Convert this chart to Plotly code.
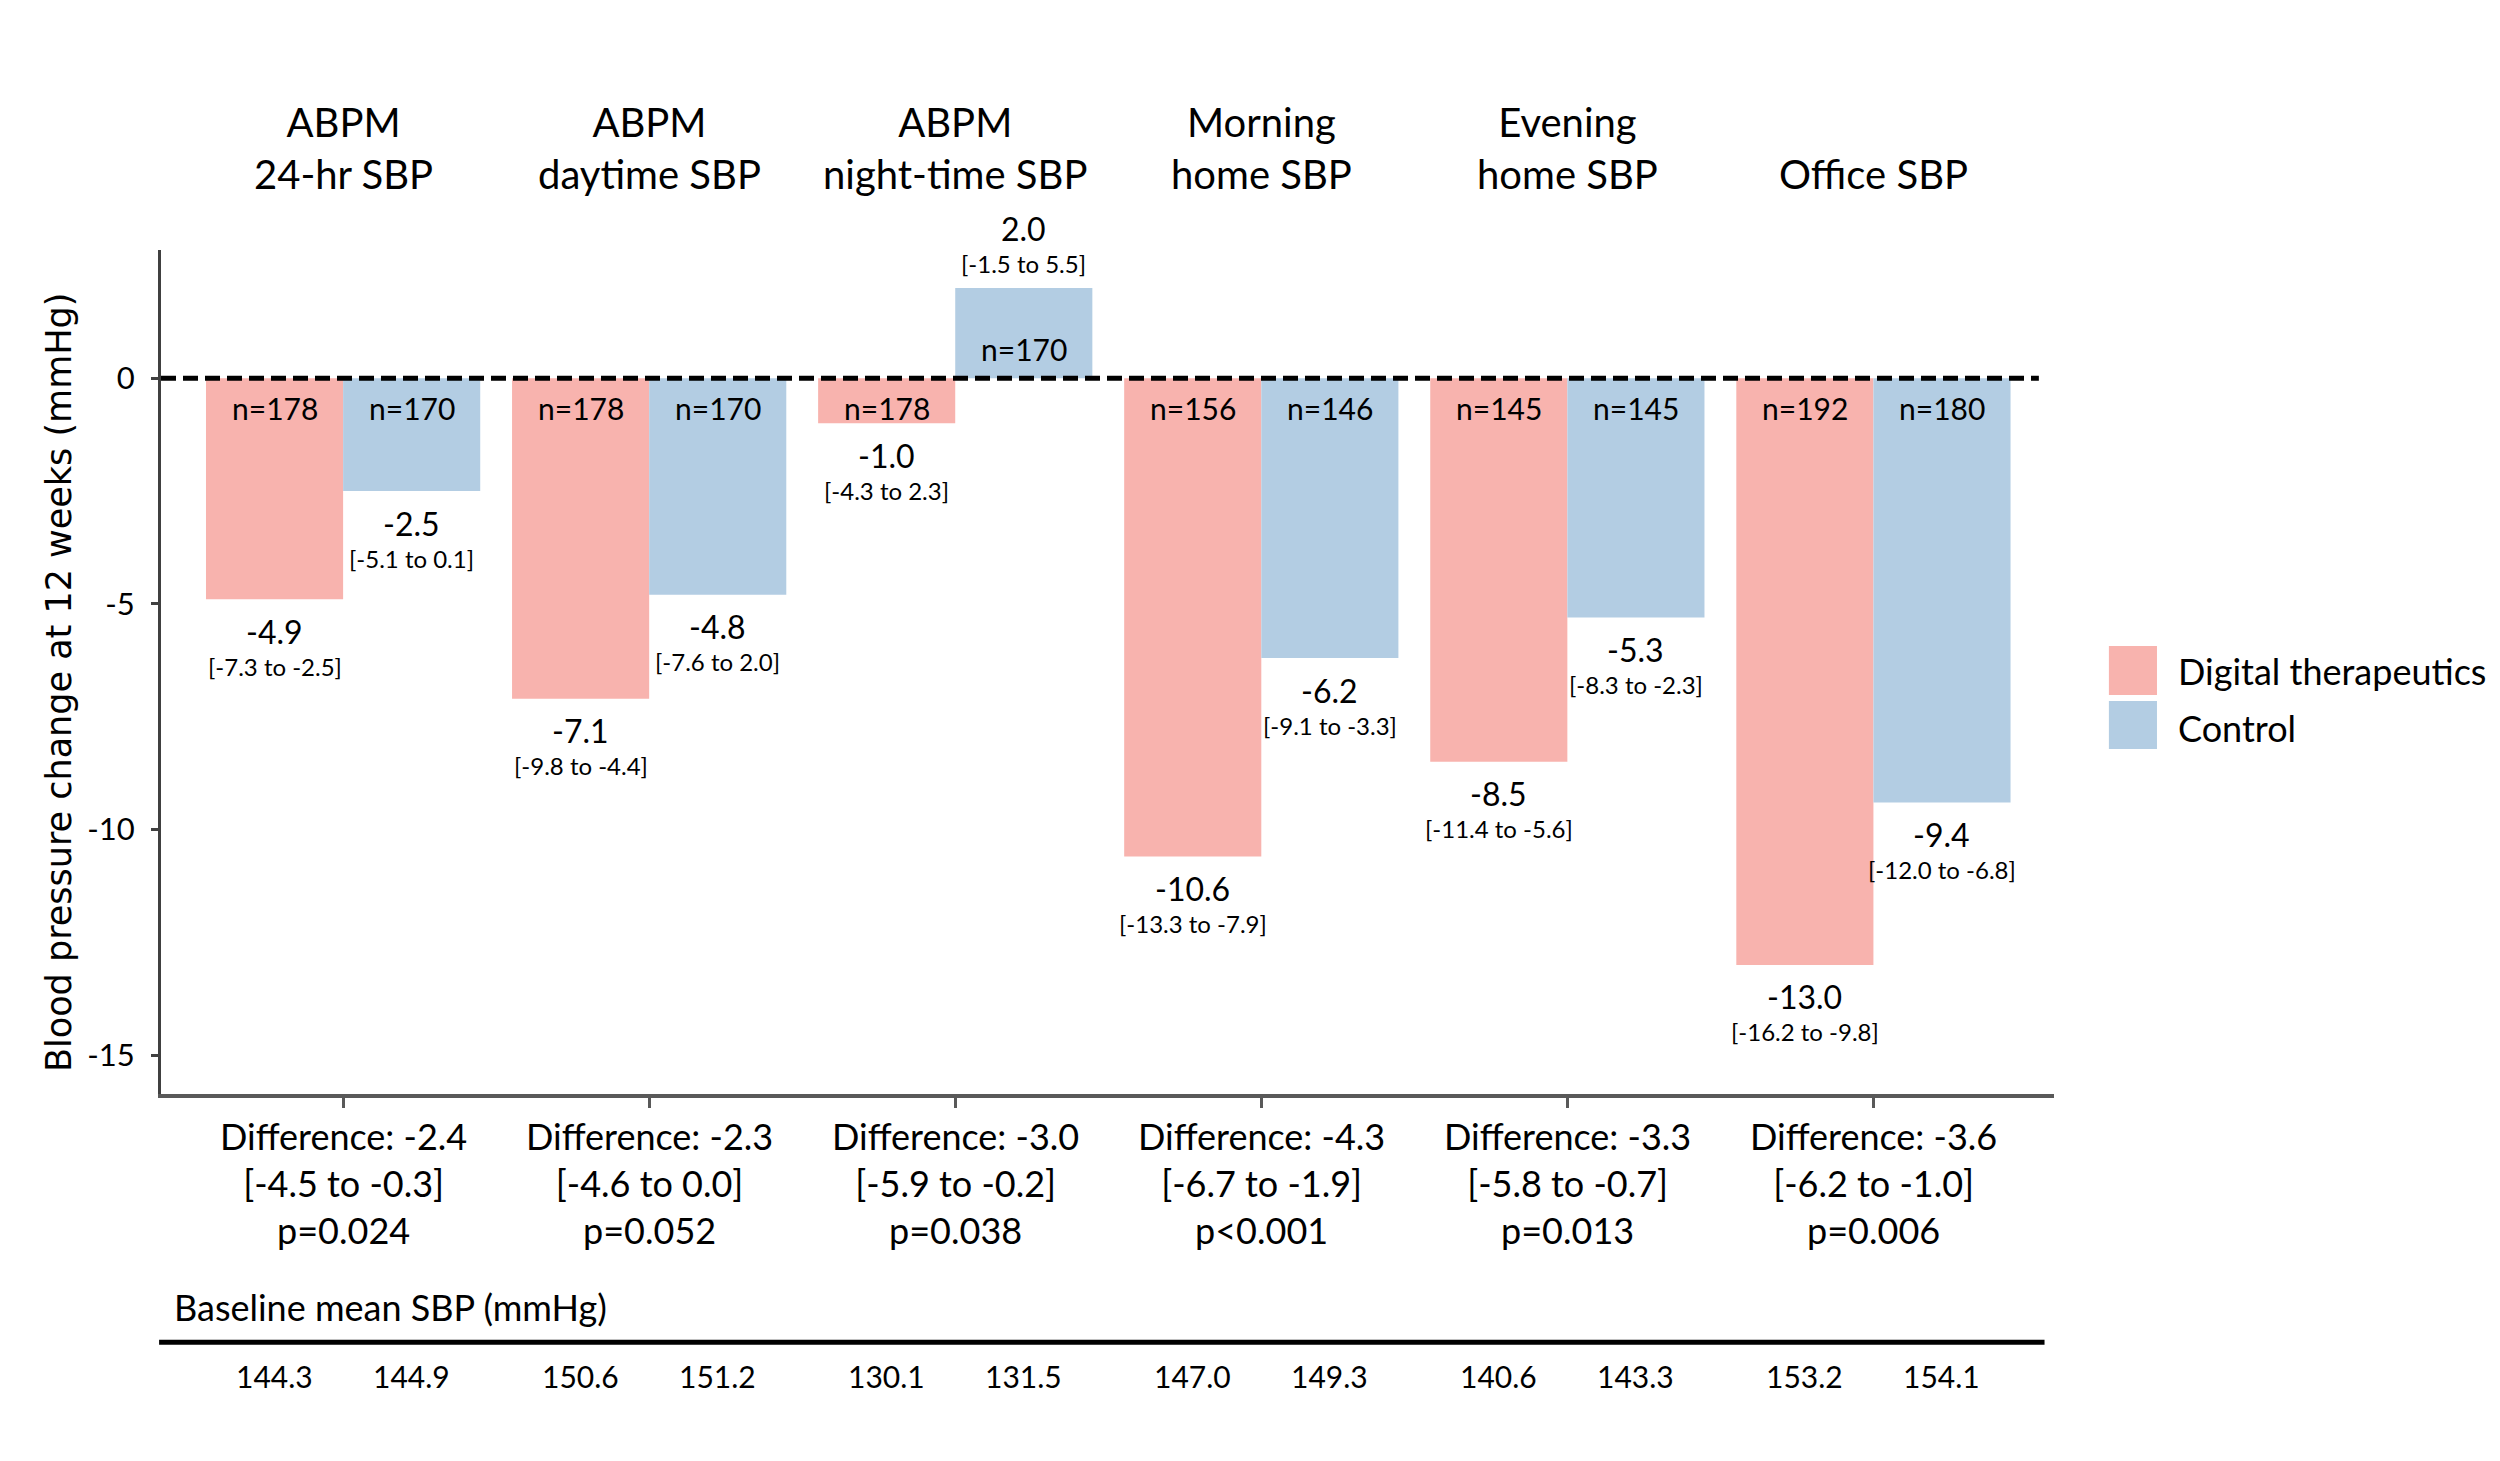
import plotly.graph_objects as go

categories = ["ABPM<br>24-hr SBP", "ABPM<br>daytime SBP", "ABPM<br>night-time SBP",
              "Morning<br>home SBP", "Evening<br>home SBP", "Office SBP"]
digital_vals = [-4.9, -7.1, -1.0, -10.6, -8.5, -13.0]
control_vals = [-2.5, -4.8, 2.0, -6.2, -5.3, -9.4]
digital_ci = ["[-7.3 to -2.5]", "[-9.8 to -4.4]", "[-4.3 to 2.3]", "[-13.3 to -7.9]", "[-11.4 to -5.6]", "[-16.2 to -9.8]"]
control_ci = ["[-5.1 to 0.1]", "[-7.6 to 2.0]", "[-1.5 to 5.5]", "[-9.1 to -3.3]", "[-8.3 to -2.3]", "[-12.0 to -6.8]"]
digital_n = [178, 178, 178, 156, 145, 192]
control_n = [170, 170, 170, 146, 145, 180]
diff_vals = ["-2.4", "-2.3", "-3.0", "-4.3", "-3.3", "-3.6"]
diff_ci = ["[-4.5 to -0.3]", "[-4.6 to 0.0]", "[-5.9 to -0.2]", "[-6.7 to -1.9]", "[-5.8 to -0.7]", "[-6.2 to -1.0]"]
p_vals = ["p=0.024", "p=0.052", "p=0.038", "p<0.001", "p=0.013", "p=0.006"]
baseline_digital = ["144.3", "150.6", "130.1", "147.0", "140.6", "153.2"]
baseline_control = ["144.9", "151.2", "131.5", "149.3", "143.3", "154.1"]
y_ticks = [0, -5, -10, -15]
y_ticktext = ["0", "-5", "-10", "-15"]

PINK = "#F8B3AE"
BLUE = "#B3CDE3"
FONT = "Lato, 'Open Sans', sans-serif"

idx = list(range(len(categories)))

fig = go.Figure()
fig.add_trace(go.Bar(x=idx, y=digital_vals, name="Digital therapeutics",
                     marker=dict(color=PINK, line=dict(width=0))))
fig.add_trace(go.Bar(x=idx, y=control_vals, name="Control",
                     marker=dict(color=BLUE, line=dict(width=0))))

ann = []
OFF = 0.224
for i in idx:
    for sign, v, ci, n, bv in [(-1, digital_vals[i], digital_ci[i], digital_n[i], baseline_digital[i]),
                                (1, control_vals[i], control_ci[i], control_n[i], baseline_control[i])]:
        xp = i + sign * OFF
        ann.append(dict(x=xp, y=0, xref="x", yref="y", text=f"n={n}", showarrow=False,
                        yshift=(-30 if v < 0 else 29), font=dict(size=30)))
        if v < 0:
            ann.append(dict(x=xp, y=v, xref="x", yref="y", text=f"{v:.1f}", showarrow=False,
                            yshift=-32, font=dict(size=32)))
            ann.append(dict(x=xp, y=v, xref="x", yref="y", text=ci, showarrow=False,
                            yshift=-67, font=dict(size=24)))
        else:
            ann.append(dict(x=xp, y=v, xref="x", yref="y", text=f"{v:.1f}", showarrow=False,
                            yshift=59, font=dict(size=32)))
            ann.append(dict(x=xp, y=v, xref="x", yref="y", text=ci, showarrow=False,
                            yshift=24, font=dict(size=24)))
        ann.append(dict(x=xp, y=-0.334, xref="x", yref="paper", text=bv, showarrow=False,
                        yanchor="middle", font=dict(size=30)))
    ann.append(dict(x=i, y=1, xref="x", yref="paper", text=categories[i], showarrow=False,
                    yanchor="bottom", yshift=50, font=dict(size=40)))
    ann.append(dict(x=i, y=0, xref="x", yref="paper",
                    text=f"Difference: {diff_vals[i]}<br>{diff_ci[i]}<br>{p_vals[i]}",
                    showarrow=False, yanchor="top", yshift=-18, font=dict(size=36)))

ann.append(dict(x=0.0058, y=-0.2524, xref="paper", yref="paper", text="Baseline mean SBP (mmHg)",
                showarrow=False, xanchor="left", yanchor="middle", font=dict(size=36)))
ann.append(dict(x=0, y=0.487, xref="paper", yref="paper", xshift=-102, xanchor="center",
                yanchor="middle",
                text="Blood pressure change at 12 weeks (mmHg)", textangle=-90, showarrow=False,
                font=dict(size=35, family="DejaVu Sans")))
ann.append(dict(x=1.0645, y=0.5012, xref="paper", yref="paper", text="Digital therapeutics",
                showarrow=False, xanchor="left", yanchor="middle", font=dict(size=36)))
ann.append(dict(x=1.0645, y=0.4336, xref="paper", yref="paper", text="Control",
                showarrow=False, xanchor="left", yanchor="middle", font=dict(size=36)))

shapes = [
    dict(type="line", xref="paper", yref="y", x0=0, x1=0.992, y0=0, y1=0,
         line=dict(color="black", width=5, dash="15px,7px")),
    dict(type="line", xref="paper", yref="paper", x0=-0.001, x1=0.995, y0=-0.294, y1=-0.294,
         line=dict(color="black", width=5)),
    dict(type="rect", xref="paper", yref="paper", x0=1.029, x1=1.0544, y0=0.4727, y1=0.5308,
         fillcolor=PINK, line=dict(width=0)),
    dict(type="rect", xref="paper", yref="paper", x0=1.029, x1=1.0544, y0=0.4088, y1=0.4656,
         fillcolor=BLUE, line=dict(width=0)),
]

fig.update_layout(
    width=2492, height=1453,
    margin=dict(l=153, r=446, t=242, b=367),
    paper_bgcolor="white", plot_bgcolor="white",
    barmode="group", bargap=0.104, bargroupgap=0,
    showlegend=False,
    font=dict(family=FONT, color="black"),
    annotations=ann, shapes=shapes,
    xaxis=dict(range=[-0.595, 5.59], tickvals=idx, showticklabels=False,
               ticks="outside", ticklen=10, tickwidth=3, tickcolor="#595959",
               showline=True, linecolor="#595959", linewidth=4, showgrid=False, zeroline=False),
    yaxis=dict(range=[-15.86, 2.84], tickvals=y_ticks, ticktext=y_ticktext, ticks="outside",
               ticklen=7, tickwidth=3,
               tickcolor="#404040", showline=True, linecolor="#404040", linewidth=3,
               showgrid=False, zeroline=False, tickfont=dict(size=31), ticklabelstandoff=10),
)

fig.write_html("out.html")
